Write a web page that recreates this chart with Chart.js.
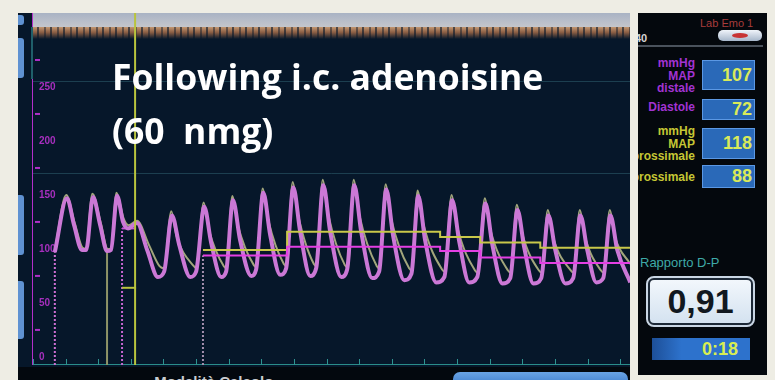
<!DOCTYPE html>
<html>
<head>
<meta charset="utf-8">
<title>FFR trace</title>
<script src="https://cdn.jsdelivr.net/npm/chart.js@4.4.1/dist/chart.umd.min.js"></script>
<style>
  body { margin: 0; width: 775px; height: 380px; background: #eeede4; position: relative; overflow: hidden; font-family: "Liberation Sans", Arial, sans-serif; }
  .monitor { position: absolute; left: 18px; top: 13px; width: 612px; height: 367px; background: #06172a; overflow: hidden; }
  .band { position: absolute; left: 15px; top: 0; width: 597px; height: 14px; background: linear-gradient(#a9b3c4, #c4c6cc); }
  .fringe { position: absolute; left: 15px; top: 14px; width: 597px; height: 12px;
    background:
      repeating-linear-gradient(90deg, rgba(6,23,42,0) 0 4px, rgba(6,23,42,0.6) 4px 6px, rgba(6,23,42,0) 6px 11px, rgba(6,23,42,0.45) 11px 13px),
      linear-gradient(#c39670, #8a5e44 45%, rgba(6,23,42,0)); }
  .side { position: absolute; left: 0; width: 6px; background: #5f92d2; border-radius: 0 3px 3px 0; }
  .axisTop { position: absolute; left: 13px; top: 14px; width: 2px; height: 52px; background: #1f5f6a; }
  .wrap { position: absolute; left: 14px; top: 0; width: 598px; height: 352px; }
  .title { position: absolute; left: 94px; color: #fff; font-family: "Open Sans", sans-serif; font-weight: 700; font-size: 35.5px; line-height: 36px; white-space: pre; }
  .strip { position: absolute; left: 0; top: 354px; width: 612px; height: 13px; background: #03080e; }
  .mode { position: absolute; left: 127px; top: 360px; color: #c9ccd0; font-weight: 700; font-size: 15px; white-space: pre; }
  .tab { position: absolute; left: 435px; top: 359px; width: 175px; height: 20px; border-radius: 7px 7px 0 0; background: linear-gradient(#6aa4e4, #2b6cc2); }

  .panel { position: absolute; left: 638px; top: 13px; width: 129px; height: 362px; background: #04080d; overflow: hidden; }
  .lab { position: absolute; left: 62px; top: 4px; color: #a83c3c; font-size: 11px; white-space: pre; }
  .num { position: absolute; left: -3px; top: 19px; color: #d4d4d4; font-size: 11px; font-weight: 700; }
  .btn { position: absolute; left: 80px; top: 17px; width: 44px; height: 11px; border-radius: 5px; background: linear-gradient(#f0f4fa, #a6b6ca); }
  .btn::after { content: ""; position: absolute; left: 14px; top: 3px; width: 16px; height: 5px; border-radius: 50%; background: #c83434; }
  .rule { position: absolute; left: 0; top: 32px; width: 125px; height: 2px; background: #4a525c; }
  .tag { position: absolute; right: 72px; font-size: 12px; font-weight: 700; line-height: 12.5px; text-align: right; white-space: pre; }
  .dist { color: #a233d2; }
  .prox { color: #c6c634; }
  .box { position: absolute; left: 64px; width: 49px; background: #2a69b8; border: 1px solid #5b98e4; color: #d9ea5a; font-weight: 700; font-size: 18px; padding-right: 2px; box-sizing: content-box; display: flex; align-items: center; justify-content: flex-end; }
  .ratioLbl { position: absolute; left: 2px; top: 242px; color: #3eaaa8; font-size: 13px; white-space: pre; }
  .ratio { position: absolute; left: 10px; top: 265px; width: 101px; height: 43px; border: 2px solid #1c2836; border-radius: 6px; outline: 2px solid #c9d6e4; background: linear-gradient(#f2f7fc, #d4e2f0); color: #111820; font-weight: 700; font-size: 34px; display: flex; align-items: center; justify-content: center; }
  .timer { position: absolute; left: 14px; top: 325px; width: 98px; height: 22px; background: linear-gradient(90deg, #1d4f98, #2d72cc 30%); color: #d8ee52; font-weight: 700; font-size: 18px; display: flex; align-items: center; justify-content: flex-end; }
  .timer span { margin-right: 12px; }
</style>
</head>
<body>
<div class="monitor">
  <div class="band"></div>
  <div class="fringe"></div>
  <div class="side" style="top:2px;height:10px"></div>
  <div class="side" style="top:25px;height:40px"></div>
  <div class="side" style="top:182px;height:60px"></div>
  <div class="side" style="top:268px;height:58px"></div>
  <div class="wrap"><canvas id="trace"></canvas></div>
  <div class="axisTop"></div>
  <div class="title" style="top:45px">Following i.c. adenoisine</div>
  <div class="title" style="top:99px">(60  nmg)</div>
  <div class="strip"></div>
  <div class="mode">- Modalità Calcolo -</div>
  <div class="tab"></div>
</div>

<div class="panel">
  <div class="lab">Lab Emo 1</div>
  <div class="num">40</div>
  <div class="btn"></div>
  <div class="rule"></div>
  <div class="tag dist" style="top:44px">mmHg
MAP
distale</div>
  <div class="tag dist" style="top:88px">Diastole</div>
  <div class="tag prox" style="top:112px">mmHg
MAP
prossimale</div>
  <div class="tag prox" style="top:158px">prossimale</div>
  <div class="box" id="r0" style="top:47px;height:28px"></div>
  <div class="box" id="r1" style="top:86px;height:19px"></div>
  <div class="box" id="r2" style="top:115px;height:29px"></div>
  <div class="box" id="r3" style="top:152px;height:21px"></div>
  <div class="ratioLbl">Rapporto D-P</div>
  <div class="ratio" id="ratio"></div>
  <div class="timer"><span id="timer"></span></div>
</div>

<script>
// distal pressure (Pd), time in s, pressure in mmHg
const pdTime = [0.67, 1.04, 1.26, 1.50, 1.63, 1.84, 2.06, 2.27, 2.39, 2.58, 2.76, 2.91, 3.19, 3.50, 3.83, 4.02,
  4.26, 4.48, 4.82, 5.00, 5.25, 5.46, 5.77, 5.92, 6.13, 6.35, 6.69, 6.84, 7.06, 7.27, 7.58, 7.76,
  7.98, 8.19, 8.50, 8.68, 8.90, 9.11, 9.45, 9.63, 9.85, 10.06, 10.40, 10.61, 10.83, 11.04, 11.38, 11.60,
  11.81, 12.02, 12.36, 12.61, 12.85, 13.07, 13.37, 13.62, 13.87, 14.08, 14.39, 14.63, 14.85, 15.06, 15.34, 15.58,
  15.80, 16.01, 16.32, 16.56, 16.78, 16.99, 17.27, 17.48, 17.70, 17.91, 18.31];
const pdPressure = [97, 147, 122, 99, 99, 148, 122, 98, 99, 149, 125, 119, 124, 99, 74, 79,
  131, 104, 74, 79, 139, 106, 74, 79, 145, 108, 75, 81, 152, 113, 76, 82,
  157, 116, 75, 82, 159, 116, 74, 81, 159, 116, 73, 79, 155, 112, 71, 77,
  149, 108, 69, 74, 145, 106, 69, 74, 142, 104, 68, 73, 136, 101, 68, 73,
  131, 99, 68, 73, 131, 99, 69, 73, 131, 99, 69];

// aortic pressure (Pa)
const paTime = [0.67, 1.02, 1.28, 1.52, 1.63, 1.82, 2.08, 2.29, 2.39, 2.56, 2.78, 2.93, 3.19, 3.55, 3.88, 4.02,
  4.24, 4.40, 4.93, 5.02, 5.23, 5.39, 5.85, 5.94, 6.11, 6.28, 6.77, 6.86, 7.04, 7.21, 7.69, 7.78,
  7.96, 8.13, 8.61, 8.70, 8.88, 9.05, 9.56, 9.65, 9.83, 10.00, 10.54, 10.63, 10.81, 10.98, 11.53, 11.62,
  11.79, 11.96, 12.54, 12.63, 12.83, 13.00, 13.55, 13.64, 13.85, 14.02, 14.56, 14.65, 14.83, 15.00, 15.51, 15.60,
  15.78, 15.95, 16.49, 16.58, 16.76, 16.93, 17.41, 17.50, 17.68, 17.85, 18.31];
const paPressure = [99, 150, 124, 101, 100, 151, 124, 100, 100, 152, 128, 122, 126, 104, 84, 82,
  135, 112, 84, 82, 143, 118, 84, 82, 149, 122, 85, 83, 156, 127, 86, 84,
  162, 131, 86, 84, 164, 132, 85, 83, 164, 132, 84, 82, 160, 128, 82, 80,
  154, 124, 81, 79, 150, 121, 80, 78, 147, 118, 80, 78, 141, 114, 80, 78,
  136, 110, 80, 78, 136, 110, 80, 78, 136, 110, 86];

// running means, each value held until the next time
const meanTime = [5.21, 7.79, 12.48, 13.71, 15.55, 18.31];
const paMean = [99, 116, 111, 106, 101, 101];
const pdMean = [94, 102, 98, 92, 87, 87];

// calipers and cursor
const caliperTime = [0.67, 2.27, 2.73, 5.21];
const caliperTop = [97, 97, 119, 94];
const bracketTime = [2.73, 3.16];
const bracketPd = 119;
const bracketPa = 64;
const cursorTime = 3.13;

// axis labels and guides
const yTicks = [0, 50, 100, 150, 200, 250];
const yGuides = [170, 255];

// readouts
const readouts = [107, 72, 118, 88];
const ratioText = "0,91";
const timerText = "0:18";

const Y_MIN = -7.5, Y_MAX = 318.5;

readouts.forEach((v, i) => { document.getElementById("r" + i).textContent = v; });
document.getElementById("ratio").textContent = ratioText;
document.getElementById("timer").textContent = timerText;

const pts = (t, v) => t.map((x, i) => ({ x: x, y: v[i] }));

const caliperStyle = [
  { color: "#d070d2", dash: [2, 2] },
  { color: "#8e9468", dash: [] },
  { color: "#c665d0", dash: [2, 2] },
  { color: "#a48fae", dash: [2, 2] },
];

const datasets = [
  { data: pts(meanTime, pdMean), borderColor: "#e43fe4", borderWidth: 2, stepped: "before", order: 0 },
  { data: pts(meanTime, paMean), borderColor: "#c8c84a", borderWidth: 2, stepped: "before", order: 1 },
  { data: [{ x: cursorTime, y: Y_MIN }, { x: cursorTime, y: Y_MAX }], borderColor: "#b9c43e", borderWidth: 2, order: 2 },
  { data: pts(pdTime, pdPressure), borderColor: "#cb78d6", borderWidth: 4, cubicInterpolationMode: "monotone", order: 3 },
  { data: pts(paTime, paPressure), borderColor: "#a2a67c", borderWidth: 2, cubicInterpolationMode: "monotone", order: 4 },
  { data: pts(bracketTime, [bracketPd, bracketPd]), borderColor: "#d050e0", borderWidth: 2, order: 5 },
  { data: pts(bracketTime, [bracketPa, bracketPa]), borderColor: "#b9c43e", borderWidth: 2, order: 5 },
];

caliperTime.forEach((t, i) => {
  datasets.push({
    data: [{ x: t, y: Y_MIN }, { x: t, y: caliperTop[i] }],
    borderColor: caliperStyle[i].color,
    borderDash: caliperStyle[i].dash,
    borderWidth: 2,
    order: 6,
  });
});

// axes take no room: the plot fills the canvas, labels sit inside it
const noRoom = (scale) => {
  if (scale.isHorizontal()) scale.height = 0; else scale.width = 0;
  scale.paddingTop = 0;
  scale.paddingBottom = 0;
  scale.paddingLeft = 0;
  scale.paddingRight = 0;
};

// small tick marks drawn inside the plot along both axes
const tickMarks = {
  id: "tickMarks",
  afterDraw(chart) {
    const { ctx, chartArea, scales } = chart;
    ctx.save();
    ctx.lineWidth = 1;
    ctx.strokeStyle = "#2f9390";
    for (let s = Math.ceil(scales.x.min); s <= scales.x.max; s++) {
      const px = Math.round(scales.x.getPixelForValue(s)) + 0.5;
      ctx.beginPath();
      ctx.moveTo(px, chartArea.bottom);
      ctx.lineTo(px, chartArea.bottom - 6);
      ctx.stroke();
    }
    ctx.strokeStyle = "#b030c8";
    ctx.lineWidth = 2;
    for (let v = 25; v <= 275; v += 50) {
      const py = scales.y.getPixelForValue(v);
      ctx.beginPath();
      ctx.moveTo(chartArea.left + 3, py);
      ctx.lineTo(chartArea.left + 8, py);
      ctx.stroke();
    }
    ctx.restore();
  },
};

new Chart(document.getElementById("trace"), {
  type: "line",
  data: { datasets: datasets },
  options: {
    responsive: true,
    maintainAspectRatio: false,
    animation: false,
    layout: { padding: 0 },
    elements: { point: { radius: 0 }, line: { fill: false } },
    plugins: { legend: { display: false }, tooltip: { enabled: false } },
    scales: {
      x: {
        type: "linear",
        min: -0.03,
        max: 18.3,
        afterFit: noRoom,
        ticks: { display: false },
        grid: { display: false, drawTicks: false },
        border: { color: "#2a8c8a", width: 2 },
      },
      y: {
        min: Y_MIN,
        max: Y_MAX,
        afterFit: noRoom,
        afterBuildTicks: (scale) => {
          scale.ticks = yTicks.concat(yGuides).sort((a, b) => a - b).map((v) => ({ value: v }));
        },
        ticks: {
          mirror: true,
          padding: 7,
          autoSkip: false,
          color: "#a62fbe",
          font: { family: "Liberation Sans", weight: "bold", size: 10 },
          callback: (v) => (yTicks.includes(v) ? String(v) : ""),
        },
        grid: {
          drawTicks: false,
          color: (c) => (c.tick && yGuides.includes(c.tick.value) ? "rgba(48,96,112,0.55)" : "rgba(0,0,0,0)"),
        },
        border: { color: "#b22fca", width: 2 },
      },
    },
  },
  plugins: [tickMarks],
});
</script>
</body>
</html>
